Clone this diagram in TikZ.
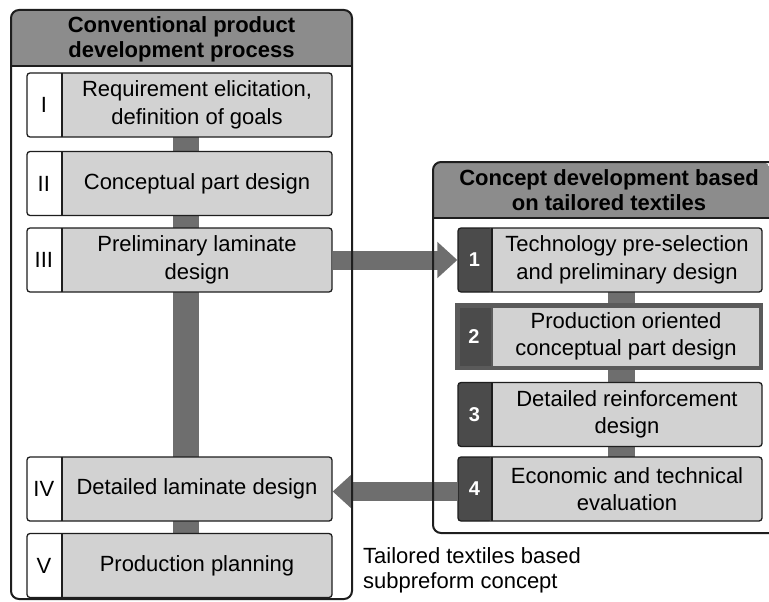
\documentclass[tikz,border=0pt]{standalone}
\usepackage{fontspec}
\setmainfont{Liberation Sans}
\usetikzlibrary{arrows.meta}
\definecolor{hdr}{HTML}{8C8C8C}
\definecolor{stepfill}{HTML}{D2D2D2}
\definecolor{numdark}{HTML}{4B4B4B}
\definecolor{barcol}{HTML}{6E6E6E}
\definecolor{boxtwo}{HTML}{5A5A5A}
\definecolor{framecol}{HTML}{1E1E1E}
\pgfdeclarelayer{bg}\pgfdeclarelayer{mid}\pgfsetlayers{bg,mid,main}
\newcommand\mkleftstep[4]{%
  \node (#1) [stepbox, minimum width=305pt, path picture={
      \fill[white] (path picture bounding box.north west) rectangle ([xshift=35pt]path picture bounding box.south west);
      \draw[line width=1.3pt] ([xshift=35pt]path picture bounding box.north west) -- ([xshift=35pt]path picture bounding box.south west);}]
    at (179.5,#2) {};
  \node (#1-num) [txt] at ([xshift=17.5pt]#1.west) {#3};
  \node (#1-txt) [txt] at ([xshift=17.5pt]#1.center) {#4};
}
\newcommand\mkrightstep[4]{%
  \node (#1) [stepbox, minimum width=304pt, path picture={
      \fill[numdark] (path picture bounding box.north west) rectangle ([xshift=34pt]path picture bounding box.south west);
      \draw[line width=1.3pt] ([xshift=34pt]path picture bounding box.north west) -- ([xshift=34pt]path picture bounding box.south west);}]
    at (610,#2) {};
  \node (#1-num) [numtxt] at ([xshift=17pt]#1.west) {#3};
  \node (#1-txt) [txt] at ([xshift=17pt]#1.center) {#4};
}
\begin{document}
\begin{tikzpicture}[x=1pt,y=-1pt,
  txt/.style={font=\fontsize{22}{27.5}\selectfont, align=center, inner sep=0pt},
  numtxt/.style={font=\bfseries\fontsize{20}{24}\selectfont, text=white, inner sep=0pt},
  hdrtxt/.style={font=\bfseries\fontsize{22}{25}\selectfont, align=center, inner sep=0pt},
  stepbox/.style={draw=framecol, line width=1.3pt, rounded corners=3pt, fill=stepfill, minimum height=64pt, inner sep=0pt},
  framelw/.style={draw=framecol, line width=2pt},
  barline/.style={draw=barcol},
  fatarrow/.style={draw=barcol, line width=19pt, -{Triangle[length=20pt,width=35pt]}}
]
\useasboundingbox (0,0) rectangle (769,602);

% frame backgrounds
\begin{pgfonlayer}{bg}
  \fill[white, rounded corners=8pt] (11,10) rectangle (352,599);
  \begin{scope}
    \clip[rounded corners=8pt] (11,10) rectangle (352,599);
    \fill[hdr] (11,10) rectangle (352,66);
  \end{scope}
  \fill[white, rounded corners=8pt] (770,162) -- (433,162) -- (433,533) -- (770,533) -- cycle;
  \begin{scope}
    \clip[rounded corners=8pt] (770,162) -- (433,162) -- (433,533) -- (770,533) -- cycle;
    \fill[hdr] (433,162) rectangle (770,218);
  \end{scope}
\end{pgfonlayer}

% frame outlines
\draw[framelw, rounded corners=8pt] (11,10) rectangle (352,599);
\draw[framelw] (11,66) -- (352,66);
\draw[framelw, rounded corners=8pt] (770,162) -- (433,162) -- (433,533) -- (770,533);
\draw[framelw] (433,218) -- (770,218);

\node (lhead) [hdrtxt] at (181.5,39) {Conventional product\\development process};
\node (rhead) [hdrtxt] at (609,190) {Concept development based\\on tailored textiles};

% left steps
\mkleftstep{pI}{105}{I}{Requirement elicitation,\\definition of goals}
\mkleftstep{pII}{183.5}{II}{Conceptual part design}
\mkleftstep{pIII}{260}{III}{Preliminary laminate\\design}
\mkleftstep{pIV}{489}{IV}{Detailed laminate design}
\mkleftstep{pV}{565.5}{V}{Production planning}

% right steps
\mkrightstep{t1}{260}{1}{Technology pre-selection\\and preliminary design}
\node (t2) [stepbox, draw=boxtwo, line width=4.5pt, sharp corners, minimum width=303.5pt, minimum height=62.5pt,
  path picture={
    \fill[numdark] (path picture bounding box.north west) rectangle ([xshift=34.75pt]path picture bounding box.south west);
    \draw[line width=1.3pt] ([xshift=34.75pt]path picture bounding box.north west) -- ([xshift=34.75pt]path picture bounding box.south west);}]
  at (609,336.5) {};
\node (t2-num) [numtxt] at ([xshift=19pt]t2.west) {2};
\node (t2-txt) [txt] at ([xshift=17pt]t2.center) {Production oriented\\conceptual part design};
\mkrightstep{t3}{414.5}{3}{Detailed reinforcement\\design}
\mkrightstep{t4}{489}{4}{Economic and technical\\evaluation}

% connectors
\begin{pgfonlayer}{mid}
  \draw[barline, line width=26pt] ([xshift=6.5pt]pI.center) -- ([xshift=6.5pt]pV.center);
  \draw[barline, line width=27pt] ([xshift=11.5pt]t1.center) -- ([xshift=11.5pt]t4.center);
  \draw[fatarrow] (pIII.east) -- (t1.west);
  \draw[fatarrow] ([yshift=-2.5pt]t4.west) -- ([yshift=-2.5pt]pIV.east);
\end{pgfonlayer}

\node (note) [font=\fontsize{22}{25.5}\selectfont, align=left, inner sep=0pt, anchor=north west] at (363,547) {Tailored textiles based\\subpreform concept};
\end{tikzpicture}
\end{document}
